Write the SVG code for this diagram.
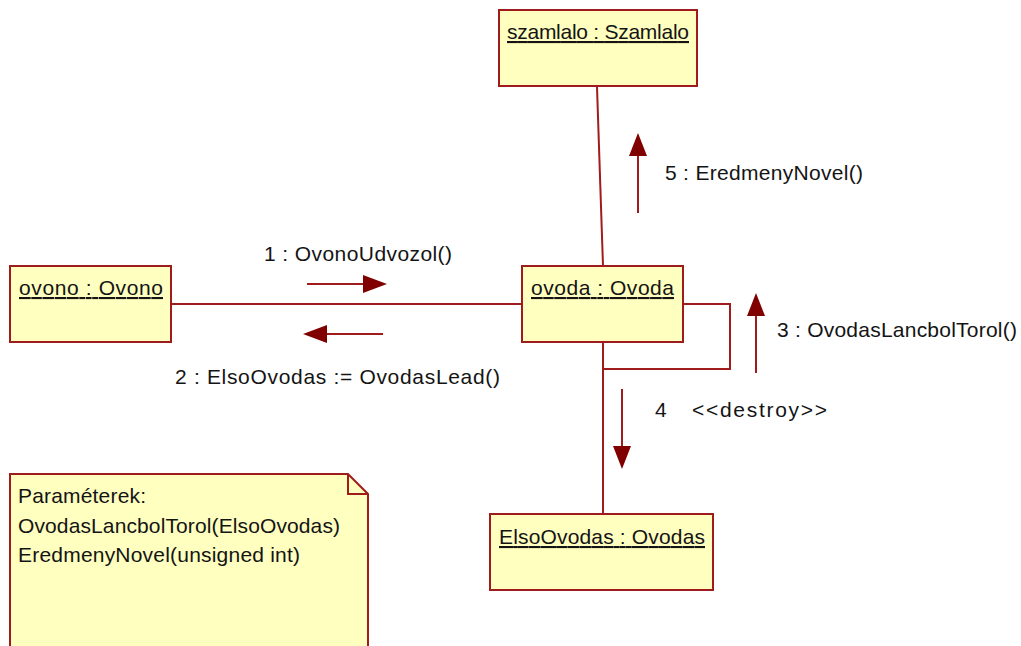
<svg xmlns="http://www.w3.org/2000/svg" width="1021" height="646" viewBox="0 0 1021 646">
  <style>
    .box { fill: #FFFFC0; stroke: #A01C1C; stroke-width: 2; }
    .link { fill: none; stroke: #A01C1C; stroke-width: 2; }
    .msg { fill: none; stroke: #A01C1C; stroke-width: 2; }
    .head { fill: #800000; stroke: none; }
    text { font-family: "Liberation Sans", Arial, sans-serif; font-size: 21px; fill: #141414; }
    .obj { text-decoration: underline; }
  </style>
  <rect width="1021" height="646" fill="#FFFFFF"/>

  <!-- links between objects -->
  <g id="connectors">
    <line class="link" x1="597" y1="87" x2="603" y2="266"/>
    <line class="link" x1="171" y1="304" x2="522" y2="304"/>
    <line class="link" x1="603" y1="342" x2="603" y2="514"/>
    <polyline class="link" points="683,304 730,304 730,369 603,369"/>

    <!-- message 1 -->
    <line class="msg" x1="307" y1="284" x2="366" y2="284"/>
    <polygon class="head" points="387,284 363,275 363,293"/>
    <!-- message 2 -->
    <line class="msg" x1="383" y1="334" x2="324" y2="334"/>
    <polygon class="head" points="303,334 327,325 327,343"/>
    <!-- message 3 -->
    <line class="msg" x1="756" y1="373" x2="756" y2="312"/>
    <polygon class="head" points="756,293 747,316 765,316"/>
    <!-- message 4 -->
    <line class="msg" x1="622" y1="389" x2="622" y2="450"/>
    <polygon class="head" points="622,469 613,446 631,446"/>
    <!-- message 5 -->
    <line class="msg" x1="638" y1="213" x2="638" y2="153"/>
    <polygon class="head" points="638,133 629,156 647,156"/>

    <text x="264" y="261" textLength="188" lengthAdjust="spacing">1 : OvonoUdvozol()</text>
    <text x="175" y="384" textLength="325" lengthAdjust="spacing">2 : ElsoOvodas := OvodasLead()</text>
    <text x="777" y="337" textLength="240" lengthAdjust="spacing">3 : OvodasLancbolTorol()</text>
    <text x="655" y="417">4</text>
    <text x="692" y="417" textLength="135" lengthAdjust="spacing">&lt;&lt;destroy&gt;&gt;</text>
    <text x="665" y="180" textLength="198" lengthAdjust="spacing">5 : EredmenyNovel()</text>
  </g>

  <g id="szamlalo">
    <rect class="box" x="499" y="10" width="198" height="76"/>
    <text class="obj" x="507" y="39" textLength="182" lengthAdjust="spacing">szamlalo : Szamlalo</text>
  </g>

  <g id="ovono">
    <rect class="box" x="10" y="266" width="161" height="76"/>
    <text class="obj" x="19" y="295" textLength="144" lengthAdjust="spacing">ovono : Ovono</text>
  </g>

  <g id="ovoda">
    <rect class="box" x="522" y="266" width="161" height="76"/>
    <text class="obj" x="531" y="295" textLength="143" lengthAdjust="spacing">ovoda : Ovoda</text>
  </g>

  <g id="elsoovodas">
    <rect class="box" x="490" y="514" width="223" height="76"/>
    <text class="obj" x="499" y="544" textLength="206" lengthAdjust="spacing">ElsoOvodas : Ovodas</text>
  </g>

  <g id="note">
    <path class="box" d="M10,474 H348 L368,494 V660 H10 Z"/>
    <path class="link" d="M348,474 V494 H368"/>
    <text x="18" y="503" textLength="128" lengthAdjust="spacing">Paraméterek:</text>
    <text x="18" y="533" textLength="322" lengthAdjust="spacing">OvodasLancbolTorol(ElsoOvodas)</text>
    <text x="18" y="562" textLength="282" lengthAdjust="spacing">EredmenyNovel(unsigned int)</text>
  </g>
</svg>
